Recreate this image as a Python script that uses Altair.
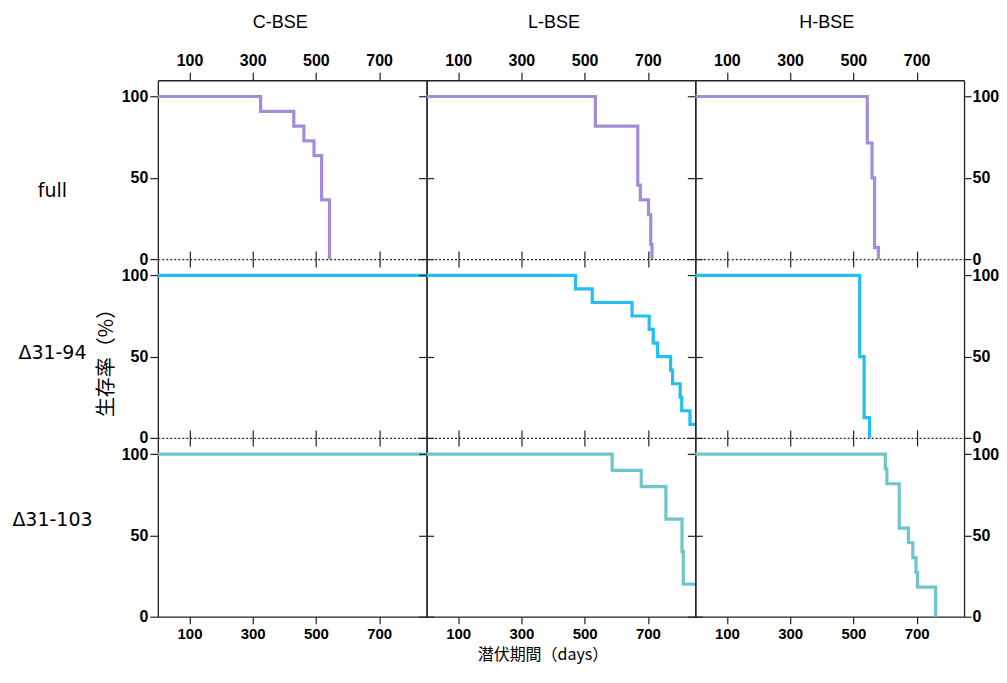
import altair as alt
import pandas as pd

COLS = ["C-BSE", "L-BSE", "H-BSE"]
ROWS = ["full", "Δ31-94", "Δ31-103"]
X_TITLE = "潜伏期間（days）"
Y_TITLE = "生存率（%）"
X_TICKS = [100, 300, 500, 700]
Y_TICKS = [0, 50, 100]
COLORS = ["#a48cd6", "#22bff0", "#6cc6cc"]

# survival curves (days, % surviving)
C_FULL_T = [0, 325, 430, 462, 494, 518, 543]
C_FULL_S = [100, 90.9, 81.8, 72.7, 63.6, 36.4, 0]
L_FULL_T = [0, 534, 668, 676, 702, 709, 713]
L_FULL_S = [100, 81.8, 45.5, 36.4, 27.3, 9.1, 0]
H_FULL_T = [0, 544, 559, 567, 579]
H_FULL_S = [100, 71.4, 50, 7.1, 0]

C_D94_T = [0, 850]
C_D94_S = [100, 100]
L_D94_T = [0, 471, 524, 650, 704, 717, 731, 772, 778, 802, 807, 833, 850]
L_D94_S = [100, 91.7, 83.3, 75, 66.7, 58.3, 50, 41.7, 33.3, 25, 16.7, 8.3, 8.3]
H_D94_T = [0, 520, 534, 551]
H_D94_S = [100, 50, 12.5, 0]

C_D103_T = [0, 850]
C_D103_S = [100, 100]
L_D103_T = [0, 587, 679, 757, 808, 812, 850]
L_D103_S = [100, 90, 80, 60, 40, 20, 20]
H_D103_T = [0, 601, 606, 645, 674, 688, 698, 703, 760]
H_D103_S = [100, 90.9, 81.8, 54.5, 45.5, 36.4, 27.3, 18.2, 0]

T = [[C_FULL_T, L_FULL_T, H_FULL_T], [C_D94_T, L_D94_T, H_D94_T], [C_D103_T, L_D103_T, H_D103_T]]
S = [[C_FULL_S, L_FULL_S, H_FULL_S], [C_D94_S, L_D94_S, H_D94_S], [C_D103_S, L_D103_S, H_D103_S]]

W, H = 269, 179
ROW_LABEL_Y = [110, 94, 82]
COL_DX = [-12, -7, -3]

xs = alt.Scale(domain=[0, 850], nice=False, zero=False)
ys = alt.Scale(domain=[0, 110], nice=False)

LBL = dict(labelFont="Liberation Sans", labelFontWeight="bold",
           labelColor="black", tickColor="#222", tickWidth=1.2,
           domainColor="#222", domainWidth=1.3, grid=False)


def panel(r, c):
    df = pd.DataFrame({"t": T[r][c], "s": S[r][c]})

    bottom_kw = dict(orient="bottom", values=X_TICKS, labels=(r == 2), labelFontSize=15,
                     labelPadding=3, tickSize=(7 if r == 2 else 8), **LBL)
    if r < 2:
        bottom_kw["domainDash"] = [2, 2]
    if r == 2 and c == 1:
        bottom_kw.update(title=X_TITLE, titleFont="Noto Sans CJK JP", titleFontSize=16,
                         titleFontWeight="normal", titleColor="black", titleX=116, titleY=37.5,
                         titleAlign="center", titleBaseline="middle", titleAngle=0)
    else:
        bottom_kw["title"] = None
    left_kw = dict(orient="left", values=Y_TICKS, labels=(c == 0), labelFontSize=16,
                   labelPadding=2, tickSize=8, **LBL)
    if c == 0:
        left_kw.update(title=ROWS[r], titleFont="DejaVu Sans", titleFontSize=19,
                       titleFontWeight="normal", titleColor="black", titleAngle=0,
                       titleX=-106, titleY=ROW_LABEL_Y[r], titleAlign="center",
                       titleBaseline="middle")
    else:
        left_kw["title"] = None

    top_kw = dict(orient="top", values=X_TICKS, labels=(r == 0), domain=(r == 0),
                  labelFontSize=16, labelPadding=4, tickSize=8, title=None, **LBL)
    right_kw = dict(orient="right", values=Y_TICKS, labels=(c == 2), labelFontSize=16,
                    labelPadding=1, tickSize=7, title=None, **LBL)

    line = alt.Chart(df).mark_line(interpolate="step-after", strokeWidth=3.2,
                                   color=COLORS[r]).encode(
        x=alt.X("t:Q", scale=xs, axis=alt.Axis(**bottom_kw)),
        y=alt.Y("s:Q", scale=ys, axis=alt.Axis(**left_kw)),
    )
    ghost = alt.Chart(df).mark_line(opacity=0).encode(
        x=alt.X("t:Q", scale=xs, axis=alt.Axis(**top_kw)),
        y=alt.Y("s:Q", scale=ys, axis=alt.Axis(**right_kw)),
    )
    layers = [line, ghost]
    if r == 1 and c == 0:
        ytxt = alt.Chart(pd.DataFrame({"label": [Y_TITLE]})).mark_text(
            angle=270, font="Noto Sans CJK JP", fontSize=20, color="black",
            align="center", baseline="middle").encode(
            text="label:N", x=alt.value(-51), y=alt.value(99))
        layers.append(ytxt)
    ch = alt.layer(*layers).resolve_axis(x="independent", y="independent").properties(
        width=W, height=H)
    if r == 0:
        ch = ch.properties(title=alt.TitleParams(COLS[c], font="Liberation Sans", fontSize=18,
                                                 fontWeight="normal", color="black",
                                                 frame="group", dx=COL_DX[c], offset=20))
    return ch


panels = [panel(r, c) for r in range(3) for c in range(3)]
chart = alt.concat(*panels, columns=3, spacing=0, bounds="flush").configure_view(
    stroke=None).properties(padding={"left": 3, "top": 6, "right": 0, "bottom": 3})

chart.save("out.html", embed_options={"renderer": "svg", "actions": False})
